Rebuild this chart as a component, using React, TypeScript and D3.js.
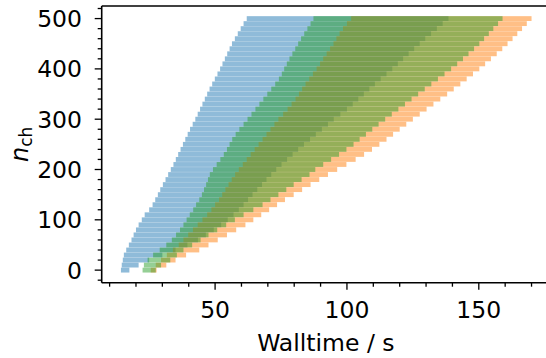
import React from 'react';
import * as d3 from 'd3';

const channels = [0, 10, 20, 30, 40, 50, 60, 70, 80, 90, 100, 110, 120, 130, 140, 150, 160, 170, 180, 190, 200, 210, 220, 230, 240, 250, 260, 270, 280, 290, 300, 310, 320, 330, 340, 350, 360, 370, 380, 390, 400, 410, 420, 430, 440, 450, 460, 470, 480, 490, 500];

const blueStart = [14.3, 14.6, 15.0, 15.4, 16.3, 17.3, 18.3, 19.1, 20.0, 21.0, 22.2, 23.3, 25.0, 26.3, 27.3, 28.3, 29.2, 30.2, 31.2, 32.2, 33.2, 34.2, 35.1, 36.0, 36.9, 37.8, 38.7, 39.6, 40.5, 41.5, 42.5, 43.4, 44.3, 45.2, 46.1, 47.0, 47.9, 48.9, 49.9, 50.9, 51.9, 52.8, 53.7, 54.6, 55.5, 56.4, 57.5, 58.6, 59.7, 60.8, 62.0];
const blueEnd = [17.5, 21.0, 25.0, 30.0, 35.0, 39.5, 43.5, 46.5, 49.5, 52.3, 54.8, 57.0, 59.0, 60.8, 62.5, 64.2, 66.0, 67.8, 69.5, 71.3, 73.2, 75.2, 77.3, 79.4, 81.5, 83.7, 86.0, 88.2, 90.5, 92.8, 95.0, 97.5, 100.0, 102.2, 104.3, 106.4, 108.5, 110.6, 112.8, 115.0, 117.2, 119.3, 121.3, 123.4, 125.5, 127.6, 129.7, 131.9, 134.1, 136.3, 138.5];

const orangeStart = [25.6, 27.5, 29.5, 31.7, 34.0, 36.2, 38.0, 39.8, 41.6, 43.4, 45.2, 47.0, 48.6, 50.0, 51.5, 52.7, 53.9, 55.1, 56.3, 57.6, 59.0, 60.5, 62.0, 63.5, 65.0, 66.5, 68.0, 69.5, 71.0, 72.5, 74.0, 75.8, 77.5, 79.0, 80.5, 81.8, 83.0, 84.3, 85.7, 87.1, 88.5, 89.8, 91.0, 92.3, 93.6, 94.9, 96.0, 97.2, 98.5, 100.0, 101.6];
const orangeEnd = [27.8, 31.5, 35.0, 39.0, 44.0, 47.5, 51.0, 54.5, 58.0, 61.5, 64.5, 67.5, 70.5, 73.5, 76.5, 79.8, 83.0, 86.2, 89.5, 92.8, 96.3, 99.8, 103.3, 106.5, 109.5, 112.3, 115.0, 117.5, 120.0, 122.5, 125.0, 127.6, 130.2, 132.8, 135.4, 138.0, 140.5, 143.0, 145.4, 147.8, 150.2, 152.4, 154.6, 156.8, 158.9, 160.9, 162.8, 164.6, 166.4, 168.2, 170.0];

const greenStart = [22.5, 23.0, 24.4, 26.5, 29.0, 31.5, 33.6, 35.2, 36.7, 38.0, 39.2, 40.4, 41.7, 42.8, 44.0, 45.0, 45.8, 46.6, 47.3, 48.0, 49.2, 50.6, 52.0, 53.3, 54.5, 55.5, 56.5, 57.8, 59.2, 60.8, 62.3, 63.8, 65.3, 66.8, 68.3, 69.8, 71.3, 72.8, 74.2, 75.3, 76.2, 77.2, 78.2, 79.3, 80.4, 81.5, 82.6, 83.8, 85.0, 86.2, 87.3];
const greenEnd = [27.5, 29.5, 33.0, 35.5, 38.0, 41.3, 44.5, 47.5, 50.8, 54.2, 57.5, 60.8, 64.5, 68.0, 71.0, 74.0, 77.0, 79.8, 82.8, 85.8, 88.0, 91.0, 94.0, 97.0, 99.8, 102.5, 104.8, 107.2, 109.6, 112.0, 114.5, 117.0, 119.5, 122.0, 124.5, 127.0, 129.5, 132.0, 134.5, 137.0, 139.5, 141.8, 144.0, 146.1, 148.2, 150.2, 152.0, 153.8, 155.5, 157.3, 159.0];

const xTickLabels = [50, 100, 150];
const yTickLabels = [0, 100, 200, 300, 400, 500];
const xLabel = 'Walltime / s';

const W = 546;
const H = 358;
const L = 101.7;
const R = 550;
const T = 6;
const B = 282.7;
const FONT = 'DejaVu Sans, Liberation Sans, sans-serif';

export default function App() {
  const x = d3.scaleLinear().domain([7.0, 177.0]).range([L, R]);
  const y = d3.scaleLinear().domain([-25, 525]).range([B, T]);
  const series = [
    { color: '#1f77b4', start: blueStart, end: blueEnd },
    { color: '#ff7f0e', start: orangeStart, end: orangeEnd },
    { color: '#2ca02c', start: greenStart, end: greenEnd },
  ];
  const barH = y(0) - y(9.6);
  const xMinor = d3.range(10, 178, 10).filter((v) => !xTickLabels.includes(v));
  const yMinor = d3.range(-20, 521, 20).filter((v) => !yTickLabels.includes(v));
  const majorLen = 7;
  const minorLen = 4;
  const tickW = 1.3;

  return (
    <svg width={W} height={H} style={{ position: 'fixed', left: 0, top: 0, background: '#fff' }}>
      <defs>
        <clipPath id="plot">
          <rect x={L} y={T} width={R - L} height={B - T} />
        </clipPath>
      </defs>
      <g clipPath="url(#plot)">
        {series.map((s, si) => (
          <g key={si} fill={s.color} fillOpacity={0.5}>
            {channels.map((c, i) => (
              <rect
                key={i}
                x={x(s.start[i])}
                y={y(c) - barH / 2}
                width={x(s.end[i]) - x(s.start[i])}
                height={barH}
              />
            ))}
          </g>
        ))}
      </g>
      <g stroke="#000" strokeWidth={1.6} fill="none">
        <line x1={L} y1={T} x2={L} y2={B} />
        <line x1={L} y1={B} x2={R} y2={B} />
        <line x1={L} y1={T} x2={R} y2={T} />
        <line x1={R} y1={T} x2={R} y2={B} />
      </g>
      <g stroke="#000" strokeWidth={tickW}>
        {yTickLabels.map((v) => (
          <line key={'ym' + v} x1={L - majorLen} x2={L} y1={y(v)} y2={y(v)} />
        ))}
        {yMinor.map((v) => (
          <line key={'yn' + v} x1={L - minorLen} x2={L} y1={y(v)} y2={y(v)} />
        ))}
        {xTickLabels.map((v) => (
          <line key={'xm' + v} x1={x(v)} x2={x(v)} y1={B} y2={B + majorLen} />
        ))}
        {xMinor.map((v) => (
          <line key={'xn' + v} x1={x(v)} x2={x(v)} y1={B} y2={B + minorLen} />
        ))}
      </g>
      <g fontFamily={FONT} fontSize={23.5} fill="#000">
        {yTickLabels.map((v) => (
          <text key={'yl' + v} x={82} y={y(v) + 8.5} textAnchor="end">
            {v}
          </text>
        ))}
        {xTickLabels.map((v) => (
          <text key={'xl' + v} x={x(v)} y={318} textAnchor="middle">
            {v}
          </text>
        ))}
      </g>
      <text x={(L + R) / 2} y={351} textAnchor="middle" fontFamily={FONT} fontSize={23.5} fill="#000">
        {xLabel}
      </text>
      <text
        transform={`translate(28, ${(T + B) / 2}) rotate(-90)`}
        textAnchor="middle"
        fontFamily={FONT}
        fontSize={24}
        fill="#000"
      >
        <tspan fontStyle="italic">n</tspan>
        <tspan fontSize={17} dy={4}>ch</tspan>
      </text>
    </svg>
  );
}
